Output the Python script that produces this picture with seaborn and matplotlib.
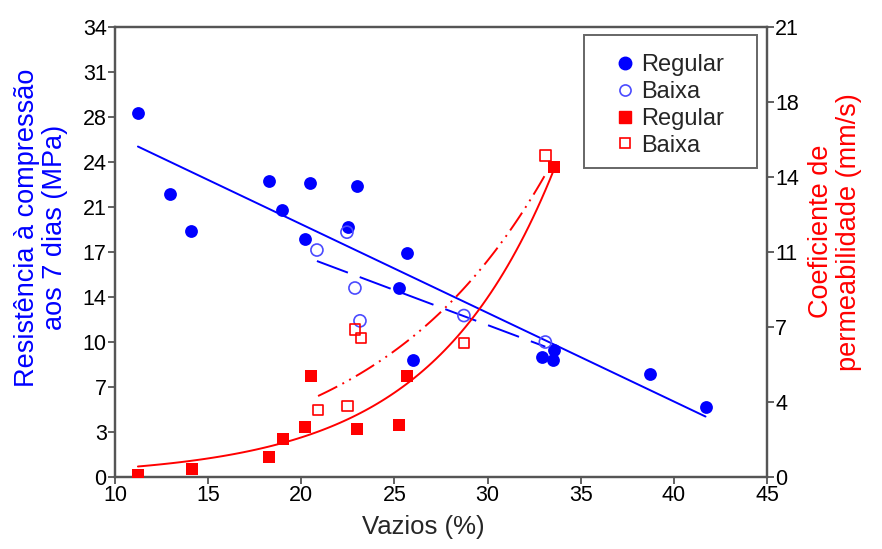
import numpy as np
import pandas as pd
import seaborn as sns
import matplotlib.pyplot as plt
from matplotlib.lines import Line2D
from matplotlib.patches import Rectangle

# resistencia (eixo esquerdo)
vaz_res_reg = [11.23, 12.95, 14.08, 18.27, 18.96, 20.47, 20.2, 22.5, 22.99, 25.67,
               25.24, 26.0, 32.9, 33.5, 33.56, 38.7, 41.7]
res_reg = [27.5, 21.4, 18.6, 22.4, 20.2, 22.2, 18.0, 18.9, 22.0, 16.9,
           14.3, 8.84, 9.07, 8.84, 9.6, 7.78, 5.3]
vaz_res_bx = [22.45, 20.84, 22.88, 23.15, 28.73, 33.1]
res_bx = [18.5, 17.15, 14.28, 11.8, 12.2, 10.2]

# permeabilidade (eixo direito)
vaz_k_reg = [11.23, 14.13, 18.27, 19.0, 20.2, 20.5, 23.0, 25.24, 25.67, 33.56]
k_reg = [0.08, 0.37, 0.93, 1.77, 2.33, 4.7, 2.24, 2.43, 4.71, 14.47]
vaz_k_bx = [20.9, 22.5, 22.88, 23.2, 28.73, 33.13]
k_bx = [3.13, 3.31, 6.9, 6.49, 6.25, 15.0]

left_ticks = ["0", "3", "7", "10", "14", "17", "21", "24", "28", "31", "34"]
right_ticks = ["0", "4", "7", "11", "14", "18", "21"]
x_ticks = [10, 15, 20, 25, 30, 35, 40, 45]

BLUE = "#0000ff"
BLUE_OPEN = "#4b4bff"
RED = "#ff0000"


def exp_fit(x, y):
    # ajuste exponencial y = a*exp(b*x) por minimos quadrados
    x = np.asarray(x, float)
    y = np.asarray(y, float)
    b, lna = np.polyfit(x, np.log(y), 1, w=y)
    a = np.exp(lna)
    for _ in range(200):
        e = np.exp(b * x)
        f = a * e
        J = np.column_stack([e, a * x * e])
        step = np.linalg.lstsq(J, y - f, rcond=None)[0]
        a += 0.5 * step[0]
        b += 0.5 * step[1]
    return a, b


sns.set_theme(style="ticks")
plt.rcParams["font.family"] = ["Liberation Sans", "DejaVu Sans"]

fig = plt.figure(figsize=(8.82, 5.49), dpi=100)
ax = fig.add_axes([0.1304, 0.1311, 0.7392, 0.8197])
ax2 = ax.twinx()

df_rr = pd.DataFrame({"v": vaz_res_reg, "r": res_reg})
df_rb = pd.DataFrame({"v": vaz_res_bx, "r": res_bx})
df_kr = pd.DataFrame({"v": vaz_k_reg, "k": k_reg})
df_kb = pd.DataFrame({"v": vaz_k_bx, "k": k_bx})

# linhas de tendencia lineares
for d, ls in [(df_rr, "-"), (df_rb, (0, (17, 6.5)))]:
    m, c = np.polyfit(d["v"], d["r"], 1)
    xs = np.linspace(d["v"].min(), d["v"].max(), 50)
    ax.plot(xs, m * xs + c, color=BLUE, lw=1.4, ls=ls, zorder=2)

sns.scatterplot(data=df_rr, x="v", y="r", ax=ax, color=BLUE, marker="o",
                s=85, edgecolor=BLUE, linewidth=0, zorder=3)
sns.scatterplot(data=df_rb, x="v", y="r", ax=ax, marker="o", s=75,
                facecolor="none", edgecolor=BLUE_OPEN, linewidth=1.2, zorder=3)

# linhas de tendencia exponenciais
for d, ls in [(df_kr, "-"), (df_kb, (0, (11, 3, 1, 3, 1, 3)))]:
    a, b = exp_fit(d["v"], d["k"])
    xs = np.linspace(d["v"].min(), d["v"].max(), 100)
    ax2.plot(xs, a * np.exp(b * xs), color=RED, lw=1.4, ls=ls, zorder=2)

sns.scatterplot(data=df_kr, x="v", y="k", ax=ax2, color=RED, marker="s",
                s=75, edgecolor=RED, linewidth=0, zorder=3)
sns.scatterplot(data=df_kb, x="v", y="k", ax=ax2, marker="s", s=60,
                facecolor="none", edgecolor=RED, linewidth=1.2, zorder=3)

ax.set_xlim(10, 45)
ax.set_ylim(0, 34)
ax2.set_ylim(0, 21)
ax.set_xticks(x_ticks)
ax.set_xticklabels([str(t) for t in x_ticks])
ax.set_yticks(np.linspace(0, 34, len(left_ticks)))
ax.set_yticklabels(left_ticks)
ax2.set_yticks(np.linspace(0, 21, len(right_ticks)))
ax2.set_yticklabels(right_ticks)
ax.set_xlabel("")
ax.set_ylabel("")
ax2.set_ylabel("")

for a_ in (ax, ax2):
    for sp in a_.spines.values():
        sp.set_color("#555555")
        sp.set_linewidth(1.6)
    a_.tick_params(axis="both", labelsize=15.5, length=5, width=1.3,
                   color="#555555", labelcolor="black", pad=1)

fig.text(0.48, 0.018, "Vazios (%)", ha="center", va="bottom", fontsize=18.5)
fig.text(0.046, 0.585, "Resistência à compressão\naos 7 dias (MPa)", color=BLUE,
         rotation=90, ha="center", va="center", fontsize=19.5, linespacing=1.1,
         multialignment="center")
fig.text(0.947, 0.578, "Coeficiente de\npermeabilidade (mm/s)", color=RED,
         rotation=90, ha="center", va="center", fontsize=19.5, linespacing=1.1,
         multialignment="center")

# caixa da legenda
ax2.add_patch(Rectangle((0.719, 0.687), 0.266, 0.295, transform=ax2.transAxes,
                        fc="white", ec="#666666", lw=1.4, zorder=5, clip_on=False))
handles = [
    Line2D([], [], ls="none", marker="o", ms=9, color=BLUE, mec=BLUE),
    Line2D([], [], ls="none", marker="o", ms=8, mfc="none", mec=BLUE_OPEN, mew=1.2),
    Line2D([], [], ls="none", marker="s", ms=8, color=RED, mec=RED),
    Line2D([], [], ls="none", marker="s", ms=7, mfc="none", mec=RED, mew=1.2),
]
leg = ax2.legend(handles, ["Regular", "Baixa", "Regular", "Baixa"],
                 loc="upper left", bbox_to_anchor=(0.764, 0.939),
                 borderaxespad=0, borderpad=0, fontsize=17, frameon=False,
                 labelspacing=0.2, handletextpad=0.2, handlelength=1.0)
leg.set_zorder(6)

fig.savefig("out.png", dpi=100)
